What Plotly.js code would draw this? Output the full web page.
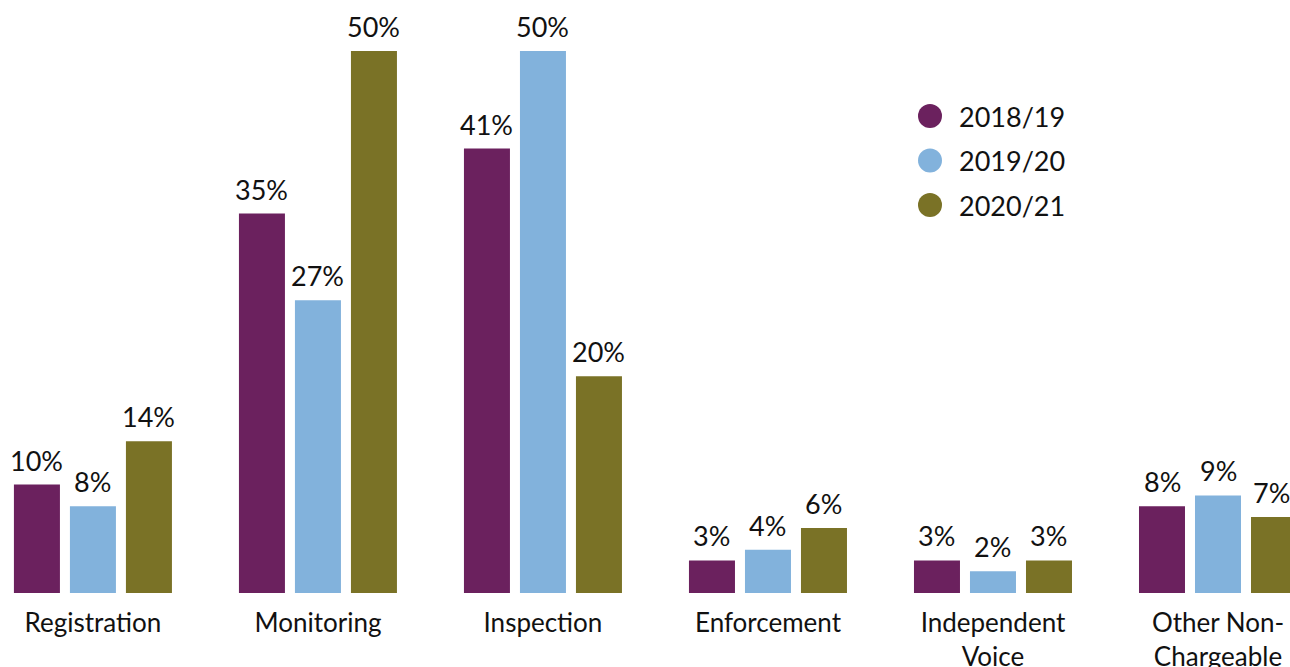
<!DOCTYPE html>
<html><head><meta charset="utf-8">
<script src="https://cdn.plot.ly/plotly-3.0.1.min.js"></script>
<style>html,body{margin:0;padding:0;background:#fff;}#chart{width:1290px;height:667px;}</style>
</head><body><div id="chart"></div>
<script>
const categories = ["Registration", "Monitoring", "Inspection", "Enforcement", "Independent<br>Voice", "Other Non-<br>Chargeable"];
const seriesNames = ["2018/19", "2019/20", "2020/21"];
const v2018 = [10, 35, 41, 3, 3, 8];
const v2019 = [8, 27, 50, 4, 2, 9];
const v2020 = [14, 50, 20, 6, 3, 7];
const colors = ["#6B215E", "#82B2DC", "#7A7226"];
const FONT = "Lato, 'Noto Sans', sans-serif";
const W = 1290, H = 667, MT = 51, MB = 74;
const PH = H - MT - MB;
const XR = [-0.413, 5.32];
const vals = [v2018, v2019, v2020];
const traces = vals.map((v, i) => ({
  type: "bar", name: seriesNames[i], x: categories, y: v,
  marker: {color: colors[i]},
  showlegend: false, hoverinfo: "skip"
}));
const SLOT = 56; // px between bar centres within a group
const pxPerCat = W / (XR[1] - XR[0]);
const annotations = [];
vals.forEach((v, i) => v.forEach((d, j) => {
  let xs = (i - 1) * SLOT;
  const cx = (j - XR[0]) * pxPerCat + xs;
  const half = 19;
  if (cx + half > W) xs -= (cx + half - W);   // keep label inside the figure
  annotations.push({
    x: categories[j], y: d, xref: "x", yref: "y", text: d + "%", showarrow: false,
    xanchor: "center", yanchor: "bottom", xshift: xs, yshift: 6,
    font: {family: FONT, size: 27, color: "#111"}
  });
}));
// legend (pixel positions converted to paper coords of the plot area)
const px = x => x / W;
const py = y => (H - MB - y) / PH;
const legX = 930, legY0 = 116, legStep = 44.5, R = 12;
const shapes = [];
seriesNames.forEach((n, i) => {
  const cy = legY0 + i * legStep;
  shapes.push({type: "circle", xref: "paper", yref: "paper",
    x0: px(legX - R), x1: px(legX + R), y0: py(cy + R), y1: py(cy - R),
    fillcolor: colors[i], line: {width: 0}});
  annotations.push({xref: "paper", yref: "paper", x: px(legX + 27), y: py(cy),
    xanchor: "left", yanchor: "middle", text: n, showarrow: false,
    font: {family: FONT, size: 27, color: "#111"}});
});
const layout = {
  width: W, height: H,
  margin: {l: 0, r: 0, t: MT, b: MB},
  paper_bgcolor: "#fff", plot_bgcolor: "#fff",
  barmode: "group", bargap: 0.2533, bargroupgap: 0.1786,
  xaxis: {range: XR, showgrid: false, zeroline: false, showline: false, ticks: "",
    ticklabelstandoff: 12,
    tickfont: {family: FONT, size: 26, color: "#111"}, fixedrange: true},
  yaxis: {range: [0, 50], visible: false, fixedrange: true},
  annotations: annotations, shapes: shapes,
  font: {family: FONT}
};
Plotly.newPlot("chart", traces, layout, {displayModeBar: false, staticPlot: true});
</script></body></html>
